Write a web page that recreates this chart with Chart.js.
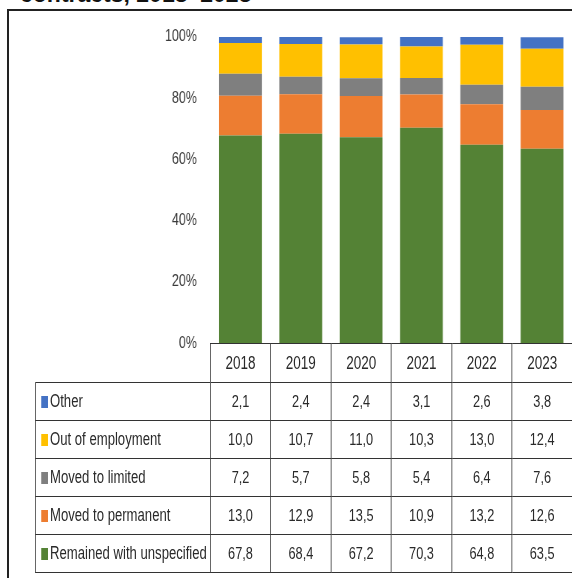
<!DOCTYPE html>
<html lang="en">
<head>
    <meta charset="UTF-8">
    <title>Contracts, 2018–2023</title>
    <script src="https://cdn.jsdelivr.net/npm/chart.js"></script>
    <style>
        body {
            margin: 0;
            width: 572px;
            height: 578px;
            overflow: hidden;
            background: white;
            position: relative;
            color: #2a2a2a;
        }
        .title {
            position: absolute;
            left: 20px;
            top: -19px;
            font-family: "Liberation Sans", Arial, sans-serif;
            font-weight: bold;
            font-size: 23px;
            color: #111;
            white-space: nowrap;
        }
        .frame {
            position: absolute;
            left: 7px;
            top: 9px;
            width: 600px;
            height: 600px;
            border-left: 2px solid #222;
            border-top: 2px solid #222;
        }
        /* everything inside is laid out wide, then squeezed to a narrow look */
        .squeeze {
            position: absolute;
            left: 0;
            top: 0;
            width: 763px;
            height: 578px;
            transform: scaleX(0.75);
            transform-origin: 0 0;
            font-family: "Liberation Sans", Arial, sans-serif;
        }
        #shareChart {
            position: absolute;
            left: 186.7px;
            top: 17px;
            width: 576px;
            height: 346px;
        }
        table {
            position: absolute;
            left: 46.7px;
            top: 343px;
            width: 716px;
            border-collapse: collapse;
            table-layout: fixed;
            font-size: 17px;
        }
        td {
            border: 1px solid #333;
            height: 37px;
            padding: 0;
            text-align: center;
            white-space: nowrap;
        }
        tr.head td { height: 38px; font-size: 18px; }
        tr.head td.blank { border: none; border-bottom: 1px solid #333; }
        td.name { text-align: left; padding-left: 7px; font-size: 17.5px; }
        .swatch {
            display: inline-block;
            width: 9px;
            height: 12px;
            margin-right: 3px;
            vertical-align: -1px;
        }
    </style>
</head>
<body>
    <div class="title">contracts, 2018–2023</div>
    <div class="frame"></div>
    <div class="squeeze">
        <canvas id="shareChart" width="576" height="346"></canvas>
        <table id="dataTable"></table>
    </div>

    <script>
        // years and shares (%) of each outcome
        const years = ['2018', '2019', '2020', '2021', '2022', '2023'];
        const other = [2.1, 2.4, 2.4, 3.1, 2.6, 3.8];
        const outOfEmployment = [10.0, 10.7, 11.0, 10.3, 13.0, 12.4];
        const movedToLimited = [7.2, 5.7, 5.8, 5.4, 6.4, 7.6];
        const movedToPermanent = [13.0, 12.9, 13.5, 10.9, 13.2, 12.6];
        const remainedUnspecified = [67.8, 68.4, 67.2, 70.3, 64.8, 63.5];
        const yTicks = [0, 20, 40, 60, 80, 100];

        // bottom of the stack first
        const series = [
            { label: 'Remained with unspecified', data: remainedUnspecified, color: '#548235' },
            { label: 'Moved to permanent', data: movedToPermanent, color: '#ED7D31' },
            { label: 'Moved to limited', data: movedToLimited, color: '#7F7F7F' },
            { label: 'Out of employment', data: outOfEmployment, color: '#FFC000' },
            { label: 'Other', data: other, color: '#4472C4' }
        ];

        const ctx = document.getElementById('shareChart').getContext('2d');
        new Chart(ctx, {
            type: 'bar',
            data: {
                labels: years,
                datasets: series.map(s => ({
                    label: s.label,
                    data: s.data,
                    backgroundColor: s.color,
                    borderWidth: 0,
                    categoryPercentage: 1,
                    barPercentage: 0.71
                }))
            },
            options: {
                responsive: false,
                animation: false,
                // tick padding + half a label already leaves ~20px above and below
                layout: { padding: 0 },
                plugins: { legend: { display: false }, tooltip: { enabled: false } },
                scales: {
                    x: { stacked: true, display: false },
                    y: {
                        stacked: true,
                        min: 0,
                        max: 100,
                        afterFit: scale => { scale.width = 93.3; },
                        afterBuildTicks: scale => { scale.ticks = yTicks.map(v => ({ value: v })); },
                        grid: { display: false },
                        border: { display: false },
                        ticks: {
                            padding: 10,
                            color: '#3a3a3a',
                            font: { family: '"Liberation Sans", Arial, sans-serif', size: 16.5 },
                            callback: v => v + '%'
                        }
                    }
                }
            }
        });

        // data table under the bars, top row of the stack first
        const fmt = v => v.toFixed(1).replace('.', ',');
        const table = document.getElementById('dataTable');
        let html = '<colgroup><col style="width:233.3px">' +
            years.map(() => '<col style="width:80.45px">').join('') + '</colgroup>';
        html += '<tr class="head"><td class="blank"></td>' + years.map(y => '<td>' + y + '</td>').join('') + '</tr>';
        series.slice().reverse().forEach(s => {
            html += '<tr><td class="name"><span class="swatch" style="background:' + s.color + '"></span>' + s.label + '</td>' +
                s.data.map(v => '<td>' + fmt(v) + '</td>').join('') + '</tr>';
        });
        table.innerHTML = html;
    </script>
</body>
</html>
